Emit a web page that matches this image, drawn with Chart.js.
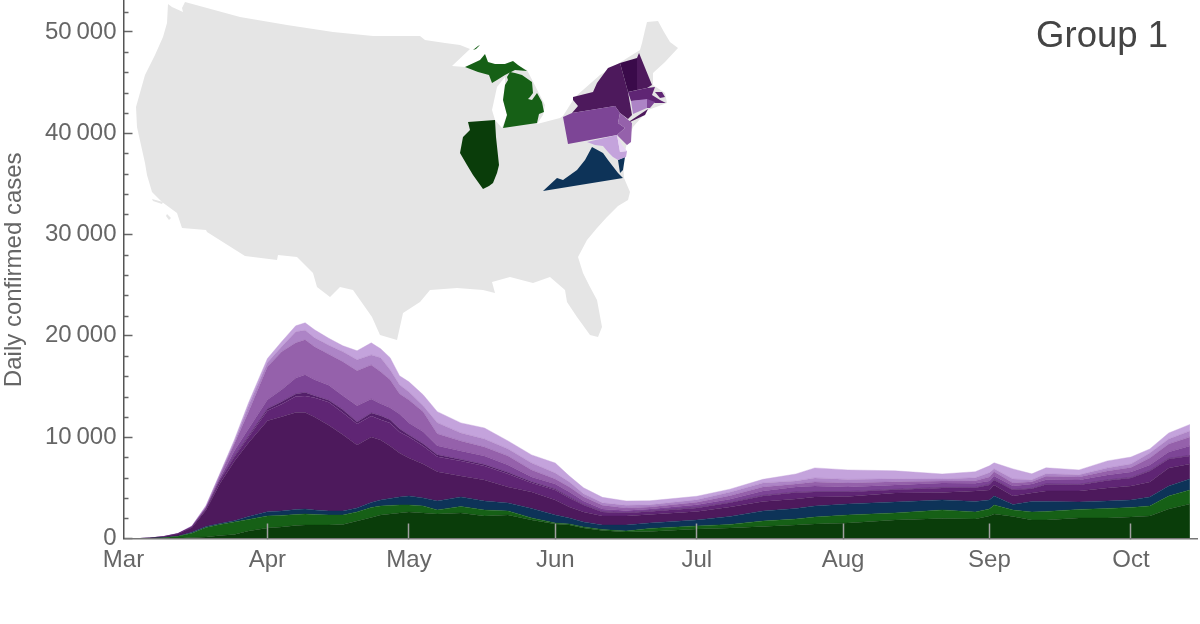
<!DOCTYPE html>
<html>
<head>
<meta charset="utf-8">
<style>
  html, body { margin: 0; padding: 0; background: #fff; }
  canvas { display: block; }
</style>
<script src="https://cdn.jsdelivr.net/npm/chart.js@4"></script>
</head>
<body>
<canvas id="groupChart" width="1200" height="624"></canvas>
<script>
// days since Mar 1
const days = [4,6,9,12,15,18,21,24,27,31, 34,37,39,41,44,47,50,53,55,57, 59,61,64,67,72,77,82,87,92,95, 98,102,107,112,122,129,136,143,147,154, 164,174,181,184,185,189,193,196,203,209, 214,218,222,226.5];

// daily cases per state, bottom of the stack first
const illinois = [0,0,20,30,100,150,300,400,740,1040, 1140,1280,1330,1330,1330,1380,1730,2070,2320,2420, 2520,2620,2520,2420,2520,2220,2320,1830,1430,1330, 1040,790,640,690,940,1040,1190,1330,1430,1530, 1830,1980,1930,2220,2420,2170,1830,1830,2030,2030, 2120,2220,2910,3410];
const michigan = [0,20,60,180,420,940,1090,1240,1140,1190, 1140,1090,1090,1040,990,940,890,990,890,840, 790,690,690,400,640,590,400,200,100,100, 100,100,100,300,300,350,540,590,690,790, 690,840,690,690,890,640,790,840,840,940, 940,990,1280,1380];
const virginia = [0,0,10,20,100,100,100,100,300,400, 440,490,490,440,400,400,400,490,590,690, 790,890,790,890,940,890,790,940,790,590, 490,440,590,540,590,790,990,1040,1090,1090, 1090,990,1040,890,890,540,1040,990,740,740, 740,890,990,1090];
const newYork = [0,20,80,220,470,1630,4000,5880,7260,8990, 9290,9580,9530,9190,8450,7510,6220,6470,5930,5190, 4350,3750,3360,2870,2070,2070,1580,1630,1480,1090, 990,890,890,840,840,940,940,940,890,740, 890,740,1040,990,1090,840,840,1040,1090,1280, 1380,1480,1780,1480];
const massachusetts = [0,0,10,10,50,100,300,450,590,990, 1240,1580,1630,1880,2270,2170,2070,2070,1980,2270, 2070,2070,1780,1480,1480,1380,1280,890,990,890, 690,400,300,300,350,400,540,640,490,440, 300,440,300,490,490,590,400,640,590,740, 790,1090,890,790];
const newHampshire = [0,0,0,0,0,30,50,100,100,200, 250,250,350,200,200,300,200,300,400,300, 300,200,200,200,150,150,150,100,100,100, 50,50,50,50,50,50,50,50,50,50, 50,50,50,50,50,50,50,50,50,50, 50,50,50,50];
const pennsylvania = [0,0,10,10,30,100,150,490,690,890, 1190,1580,1730,1580,1480,1380,1580,1380,1190,1190, 1480,1190,1190,890,840,840,740,490,490,490, 350,250,200,200,250,300,440,490,540,440, 440,440,400,350,350,350,440,400,440,490, 540,540,640,940];
const newJersey = [0,0,0,10,30,70,300,690,1680,3260, 3750,3460,3460,3260,3060,3360,3460,3360,3160,2770, 1980,2270,1980,1190,990,890,890,690,490,490, 400,350,250,200,250,350,400,300,400,400, 300,200,250,400,400,300,200,350,300,400, 440,690,790,890];
const connecticut = [0,0,0,10,20,70,100,200,590,400, 490,1090,940,890,890,990,1090,990,1380,990, 890,790,590,1090,790,790,690,690,590,490, 300,250,250,200,250,350,400,300,400,350, 300,200,300,400,300,400,200,250,200,300, 350,490,490,590];
const maryland = [0,10,10,10,15,80,100,200,300,400, 490,590,740,790,690,590,890,1190,890,1190, 890,990,1090,1090,990,1090,790,790,990,590, 590,540,440,400,350,300,350,690,990,940, 790,490,590,690,590,990,590,590,490,690, 690,400,590,640];

const seriesNames = ['Illinois', 'Michigan', 'Virginia', 'New York', 'Massachusetts', 'New Hampshire', 'Pennsylvania', 'New Jersey', 'Connecticut', 'Maryland'];
const seriesValues = [illinois, michigan, virginia, newYork, massachusetts, newHampshire, pennsylvania, newJersey, connecticut, maryland];
const seriesColors = ['#0a3d0a', '#166016', '#0d3358', '#4d195c', '#5f2574', '#54206a', '#7d4596', '#9561ab', '#ad84c6', '#c4a3dc'];

const monthTicks = [0.5, 31, 61, 92, 122, 153, 184, 214];
const monthLabels = ['Mar', 'Apr', 'May', 'Jun', 'Jul', 'Aug', 'Sep', 'Oct'];
const yTicks = [0, 10000, 20000, 30000, 40000, 50000];
const yTickLabels = ['0', '10\u2009000', '20\u2009000', '30\u2009000', '40\u2009000', '50\u2009000'];
const yMinorTicks = [2000, 4000, 6000, 8000, 12000, 14000, 16000, 18000, 22000, 24000, 26000, 28000, 32000, 34000, 36000, 38000, 42000, 44000, 46000, 48000, 52000];

// inset map, in canvas pixels (it is an illustration, not data)
const mapLand = [[168,4],[172,7],[183,12],[182,8],[185,2],[240,17],[287,25],[333,32],[373,36],[420,36],[425,40],[445,43],[460,45],[470,49],[452,66],[465,67],[487,70],[510,62],[527,70],[545,105],[543,115],[537,124],[560,118],[563,116],[575,97],[600,75],[640,50],[642,43],[645,30],[647,22],[658,21],[664,32],[670,42],[678,48],[665,62],[653,73],[653,85],[665,93],[667,103],[648,110],[633,127],[627,143],[623,160],[624,178],[630,192],[628,200],[618,206],[607,217],[597,228],[587,240],[578,257],[583,273],[590,287],[597,300],[602,327],[598,337],[590,335],[577,317],[567,302],[565,290],[550,277],[533,283],[510,277],[492,282],[495,293],[483,290],[457,288],[430,290],[420,302],[403,313],[397,340],[380,335],[372,317],[353,290],[340,287],[330,297],[317,287],[313,273],[297,257],[278,255],[277,260],[245,256],[207,232],[206,230],[182,228],[177,213],[162,202],[152,192],[147,175],[145,163],[141,145],[137,127],[136,107],[145,75],[155,55],[163,37],[167,23]];
const mapShapes = [
  { color: '#e5e5e5', pts: mapLand },
  { color: '#e5e5e5', pts: [[152,199],[163,202],[162,204],[153,201]] },
  { color: '#e5e5e5', pts: [[167,214],[171,218],[169,220],[166,216]] },
  { color: '#ffffff', pts: [[505,77],[497,87],[492,110],[495,120],[502,128],[507,115],[503,100],[505,85]] },
  { color: '#0a3d0a', pts: [[468,122],[495,120],[496,137],[499,165],[497,173],[493,183],[489,186],[483,189],[478,182],[473,175],[467,165],[460,153],[463,137],[470,130]] },
  { color: '#166016', pts: [[465,67],[480,60],[485,54],[488,62],[495,64],[505,64],[513,61],[518,65],[527,71],[515,70],[505,75],[497,80],[492,83],[489,75],[478,72]] },
  { color: '#166016', pts: [[473,50],[478,46],[480,45],[476,49]] },
  { color: '#166016', pts: [[510,72],[515,73],[522,75],[532,82],[533,93],[530,97],[528,99],[532,100],[537,93],[542,102],[544,112],[539,114],[537,123],[503,128],[507,115],[503,100],[505,85],[508,80],[507,77]] },
  { color: '#0d3358', pts: [[543,191],[557,178],[563,180],[577,170],[585,160],[592,147],[603,153],[608,160],[618,173],[623,178]] },
  { color: '#0d3358', pts: [[618,160],[625,157],[623,170],[620,173]] },
  { color: '#4d195c', pts: [[572,113],[578,106],[573,100],[573,97],[593,92],[597,83],[608,68],[620,63],[628,92],[632,115],[628,119],[620,113],[615,106]] },
  { color: '#4d195c', pts: [[627,123],[648,109],[645,115],[630,122]] },
  { color: '#3a0a4a', pts: [[620,63],[637,58],[637,90],[628,92]] },
  { color: '#4d195c', pts: [[637,58],[639,53],[652,85],[647,88],[637,90]] },
  { color: '#5f2574', pts: [[628,92],[647,88],[655,87],[652,95],[660,100],[666,103],[655,103],[647,100],[631,101]] },
  { color: '#5f2574', pts: [[655,92],[662,92],[665,97],[660,98]] },
  { color: '#7d4596', pts: [[647,99],[655,102],[650,108],[647,108]] },
  { color: '#ad84c6', pts: [[631,101],[647,99],[647,108],[633,114]] },
  { color: '#7d4596', pts: [[563,117],[572,113],[615,106],[620,113],[618,123],[625,128],[617,135],[568,144]] },
  { color: '#9561ab', pts: [[620,113],[632,123],[631,142],[627,145],[617,135],[625,128],[618,123]] },
  { color: '#c4a3dc', pts: [[587,142],[617,135],[620,152],[627,151],[626,157],[618,160],[613,157],[608,152],[603,146],[595,145]] },
  { color: '#e8d5f5', pts: [[617,135],[622,145],[627,151],[620,152]] }
];

const insetMap = {
  id: 'insetMap',
  beforeDatasetsDraw(chart) {
    const ctx = chart.ctx;
    ctx.save();
    mapShapes.forEach(function(shape) {
      ctx.beginPath();
      shape.pts.forEach(function(p, i) {
        if (i === 0) ctx.moveTo(p[0], p[1]); else ctx.lineTo(p[0], p[1]);
      });
      ctx.closePath();
      ctx.fillStyle = shape.color;
      ctx.fill();
    });
    ctx.restore();
  }
};

// short ticks on the y axis and the group name
const extras = {
  id: 'extras',
  afterDraw(chart) {
    const ctx = chart.ctx;
    const y = chart.scales.y;
    ctx.save();
    ctx.strokeStyle = '#666666';
    ctx.lineWidth = 1.5;
    yMinorTicks.forEach(function(v) {
      const py = Math.round(y.getPixelForValue(v)) + 0.5;
      ctx.beginPath();
      ctx.moveTo(y.right, py);
      ctx.lineTo(y.right + 5, py);
      ctx.stroke();
    });
    ctx.fillStyle = '#444444';
    ctx.font = '36.5px "Liberation Sans"';
    ctx.textAlign = 'right';
    ctx.textBaseline = 'alphabetic';
    ctx.fillText('Group 1', 1168, 47);
    ctx.restore();
  }
};

new Chart(document.getElementById('groupChart'), {
  type: 'line',
  data: {
    datasets: seriesNames.map(function(name, i) {
      return {
        label: name,
        data: days.map(function(d, j) { return { x: d, y: seriesValues[i][j] }; }),
        backgroundColor: seriesColors[i],
        borderColor: seriesColors[i],
        borderWidth: 0.4,
        pointRadius: 0,
        tension: 0,
        fill: i === 0 ? 'origin' : '-1'
      };
    })
  },
  options: {
    responsive: false,
    animation: false,
    devicePixelRatio: 1,
    layout: { autoPadding: false, padding: { top: 1, right: 3 } },
    plugins: {
      legend: { display: false },
      tooltip: { enabled: false }
    },
    scales: {
      x: {
        type: 'linear',
        min: 0.5,
        max: 228,
        afterBuildTicks: function(scale) {
          scale.ticks = monthTicks.map(function(v) { return { value: v }; });
        },
        afterFit: function(scale) { scale.height = 85.5; },
        grid: {
          drawOnChartArea: false,
          tickLength: -15,
          tickWidth: 1.5,
          tickColor: function(c) { return c.index === 0 ? 'rgba(0,0,0,0)' : '#a0a0a0'; },
          z: 1
        },
        border: { display: true, color: '#777777', width: 1.5, z: 1 },
        ticks: {
          autoSkip: false,
          maxRotation: 0,
          padding: 22,
          color: '#666666',
          font: { family: '"Liberation Sans"', size: 24 },
          callback: function(v, i) { return monthLabels[i]; }
        }
      },
      y: {
        stacked: true,
        min: 0,
        max: 53050,
        afterBuildTicks: function(scale) {
          scale.ticks = yTicks.map(function(v) { return { value: v }; });
        },
        afterFit: function(scale) {
          scale.width = 123.5;
          scale.paddingTop = 0;
          scale.paddingBottom = 0;
        },
        grid: {
          drawOnChartArea: false,
          tickLength: -9,
          tickWidth: 1.5,
          tickColor: '#666666'
        },
        border: { display: true, color: '#555555', width: 1.5, z: 2 },
        ticks: {
          padding: 16,
          color: '#666666',
          font: { family: '"Liberation Sans"', size: 24 },
          callback: function(v, i) { return yTickLabels[i]; }
        },
        title: {
          display: true,
          text: 'Daily confirmed cases',
          color: '#666666',
          font: { family: '"Liberation Sans"', size: 24 },
          padding: { top: 0, bottom: 0 }
        }
      }
    }
  },
  plugins: [insetMap, extras]
});
</script>
</body>
</html>
